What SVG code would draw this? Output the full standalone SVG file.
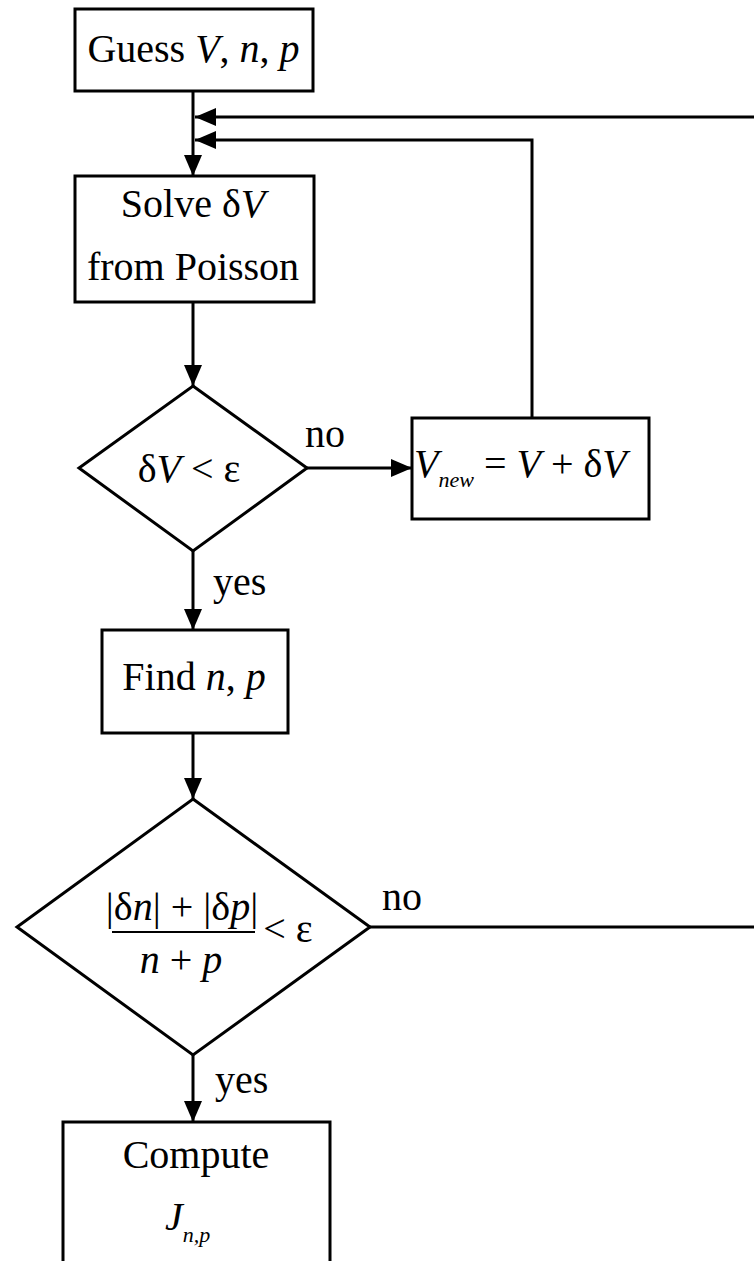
<svg xmlns="http://www.w3.org/2000/svg" width="754" height="1261" viewBox="0 0 754 1261">
  <style>
    .box { fill: #fff; stroke: #000; stroke-width: 3; }
    .wire { fill: none; stroke: #000; stroke-width: 3; }
    text { font-family: "Liberation Serif", "Times New Roman", serif; font-size: 40px; fill: #000; }
    .it { font-style: italic; }
    .sub { font-style: italic; font-size: 22px; }
  </style>
  <defs>
    <marker id="arrow" markerUnits="userSpaceOnUse" markerWidth="22" markerHeight="18" refX="21" refY="9" orient="auto">
      <path d="M0,0 L21,9 L0,18 Z" fill="#000"/>
    </marker>
  </defs>

  <rect width="754" height="1261" fill="#fff"/>

  <!-- connectors -->
  <g id="connectors">
    <line class="wire" x1="193" y1="91" x2="193" y2="176" marker-end="url(#arrow)"/>
    <line class="wire" x1="754" y1="117" x2="195" y2="117" marker-end="url(#arrow)"/>
    <polyline class="wire" points="532,418 532,140 195,140" marker-end="url(#arrow)"/>
    <line class="wire" x1="193" y1="302" x2="193" y2="386" marker-end="url(#arrow)"/>
    <line class="wire" x1="307" y1="468" x2="412" y2="468" marker-end="url(#arrow)"/>
    <line class="wire" x1="193" y1="551" x2="193" y2="630" marker-end="url(#arrow)"/>
    <line class="wire" x1="193" y1="733" x2="193" y2="799" marker-end="url(#arrow)"/>
    <line class="wire" x1="370" y1="927" x2="754" y2="927"/>
    <line class="wire" x1="193" y1="1055" x2="193" y2="1122" marker-end="url(#arrow)"/>
    <text x="305" y="447">no</text>
    <text x="213" y="595">yes</text>
    <text x="382" y="910">no</text>
    <text x="215" y="1093">yes</text>
  </g>

  <g id="guess">
    <rect class="box" x="75" y="9" width="238" height="82"/>
    <text x="193.5" y="62" text-anchor="middle">Guess <tspan class="it">V</tspan>, <tspan class="it">n</tspan>, <tspan class="it">p</tspan></text>
  </g>

  <g id="solve">
    <rect class="box" x="75" y="176" width="239" height="126"/>
    <text x="193" y="217" text-anchor="middle">Solve δ<tspan class="it">V</tspan></text>
    <text x="193" y="280" text-anchor="middle">from Poisson</text>
  </g>

  <g id="check-v">
    <polygon class="box" points="193,386 307,468 193,551 79,468"/>
    <text x="189" y="482" text-anchor="middle">δ<tspan class="it">V</tspan> &lt; ε</text>
  </g>

  <g id="update-v">
    <rect class="box" x="412" y="418" width="237" height="101"/>
    <text x="414" y="477" font-size="42"><tspan class="it">V</tspan><tspan class="sub" dy="10">new</tspan><tspan dy="-10"> = </tspan><tspan class="it">V</tspan> + δ<tspan class="it">V</tspan></text>
  </g>

  <g id="find">
    <rect class="box" x="102" y="630" width="186" height="103"/>
    <text x="194" y="690" text-anchor="middle">Find <tspan class="it">n</tspan>, <tspan class="it">p</tspan></text>
  </g>

  <g id="check-np">
    <polygon class="box" points="193,799 370,927 193,1055 17,927"/>
    <text x="182" y="920" text-anchor="middle">|δ<tspan class="it">n</tspan>| + |δ<tspan class="it">p</tspan>|</text>
    <line x1="112" y1="932" x2="255" y2="932" stroke="#000" stroke-width="2"/>
    <text x="288" y="942" text-anchor="middle">&lt; ε</text>
    <text x="181" y="973" text-anchor="middle"><tspan class="it">n</tspan> + <tspan class="it">p</tspan></text>
  </g>

  <g id="compute">
    <rect class="box" x="63" y="1122" width="267" height="160"/>
    <text x="196" y="1168" text-anchor="middle">Compute</text>
    <text x="165" y="1230" font-size="44"><tspan class="it">J</tspan><tspan class="sub" dy="12">n,p</tspan></text>
  </g>
</svg>
